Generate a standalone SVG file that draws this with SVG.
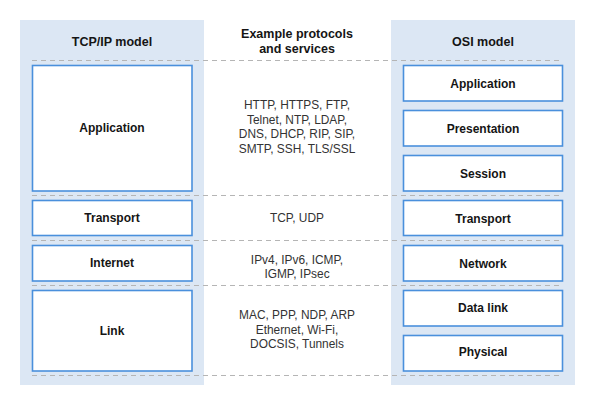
<svg xmlns="http://www.w3.org/2000/svg" width="595" height="407" viewBox="0 0 595 407">
<style>
.panel{fill:#dce7f4}
.box{fill:#fff;stroke:#4a90dc;stroke-width:1.6}
.dash{stroke:#b5b5b5;stroke-width:1.2;stroke-dasharray:5 4;fill:none}
.hd{font-family:"Liberation Sans",Arial,sans-serif;font-weight:bold;font-size:12.5px;fill:#151515;text-anchor:middle}
.lb{font-family:"Liberation Sans",Arial,sans-serif;font-weight:bold;font-size:12px;fill:#151515;text-anchor:middle}
.pr{font-family:"Liberation Sans",Arial,sans-serif;font-size:11.9px;fill:#333;text-anchor:middle}
</style>
<rect width="595" height="407" fill="#fff"/>
<g id="tcpip-panel">
<rect class="panel" x="20" y="20" width="184" height="365"/>
<text class="hd" x="112" y="46">TCP/IP model</text>
</g>
<g id="osi-panel">
<rect class="panel" x="391" y="20" width="184" height="365"/>
<text class="hd" x="483" y="46">OSI model</text>
</g>
<g id="protocols-header">
<text class="hd" x="297" y="38">Example protocols</text>
<text class="hd" x="297" y="53">and services</text>
</g>
<g id="connectors">
<line class="dash" x1="32" y1="60.5" x2="563" y2="60.5"/>
<line class="dash" x1="32" y1="195.5" x2="563" y2="195.5"/>
<line class="dash" x1="32" y1="240.5" x2="563" y2="240.5"/>
<line class="dash" x1="32" y1="285.5" x2="563" y2="285.5"/>
<line class="dash" x1="32" y1="375.5" x2="563" y2="375.5"/>
</g>
<g id="tcp-application"><rect class="box" x="32.5" y="65.5" width="159.5" height="125.5"/><text class="lb" x="112" y="132">Application</text></g>
<g id="tcp-transport"><rect class="box" x="32.5" y="200.5" width="159.5" height="35"/><text class="lb" x="112" y="222">Transport</text></g>
<g id="tcp-internet"><rect class="box" x="32.5" y="245.5" width="159.5" height="35.5"/><text class="lb" x="112" y="267">Internet</text></g>
<g id="tcp-link"><rect class="box" x="32.5" y="290.5" width="159.5" height="80.5"/><text class="lb" x="112" y="335">Link</text></g>
<g id="proto-application">
<text class="pr" x="297" y="109">HTTP, HTTPS, FTP,</text>
<text class="pr" x="297" y="123.5">Telnet, NTP, LDAP,</text>
<text class="pr" x="297" y="138">DNS, DHCP, RIP, SIP,</text>
<text class="pr" x="297" y="152.5">SMTP, SSH, TLS/SSL</text>
</g>
<g id="proto-transport"><text class="pr" x="297" y="222">TCP, UDP</text></g>
<g id="proto-internet">
<text class="pr" x="297" y="264">IPv4, IPv6, ICMP,</text>
<text class="pr" x="297" y="278">IGMP, IPsec</text>
</g>
<g id="proto-link">
<text class="pr" x="297" y="319">MAC, PPP, NDP, ARP</text>
<text class="pr" x="297" y="333.5">Ethernet, Wi-Fi,</text>
<text class="pr" x="297" y="348">DOCSIS, Tunnels</text>
</g>
<g id="osi-application"><rect class="box" x="403.5" y="65.5" width="159" height="35.5"/><text class="lb" x="483" y="87.5">Application</text></g>
<g id="osi-presentation"><rect class="box" x="403.5" y="110.5" width="159" height="35.5"/><text class="lb" x="483" y="132.5">Presentation</text></g>
<g id="osi-session"><rect class="box" x="403.5" y="155.5" width="159" height="35.5"/><text class="lb" x="483" y="177.5">Session</text></g>
<g id="osi-transport"><rect class="box" x="403.5" y="200.5" width="159" height="35"/><text class="lb" x="483" y="222.5">Transport</text></g>
<g id="osi-network"><rect class="box" x="403.5" y="245.5" width="159" height="35.5"/><text class="lb" x="483" y="267.5">Network</text></g>
<g id="osi-datalink"><rect class="box" x="403.5" y="290.5" width="159" height="35.5"/><text class="lb" x="483" y="312">Data link</text></g>
<g id="osi-physical"><rect class="box" x="403.5" y="335.5" width="159" height="35.5"/><text class="lb" x="483" y="355.5">Physical</text></g>
</svg>
